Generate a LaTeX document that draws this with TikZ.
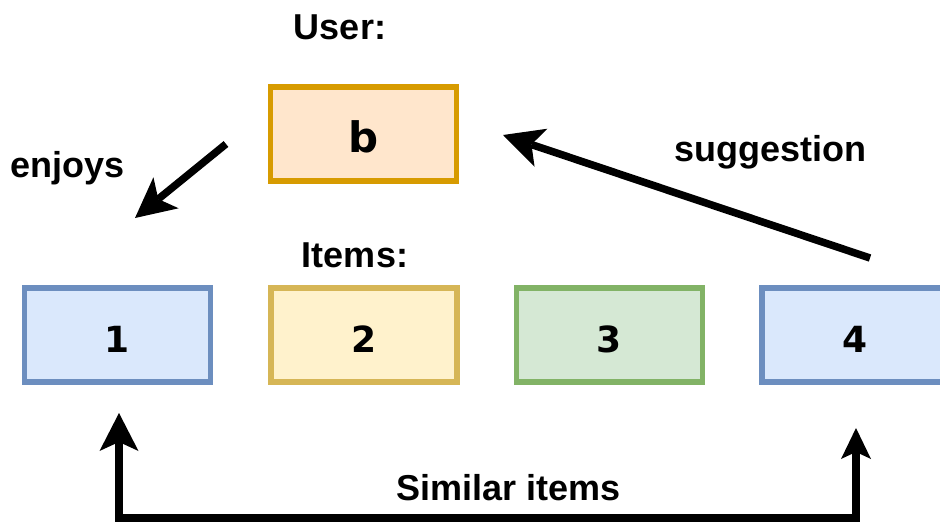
\documentclass[tikz,border=0pt]{standalone}
\usepackage{fontspec}
\setmainfont{Liberation Sans}
\newfontfamily\boxfont{DejaVu Sans}
\usetikzlibrary{arrows.meta}

\definecolor{blueFill}{HTML}{DAE8FC}
\definecolor{blueLine}{HTML}{6C8EBF}
\definecolor{yellowFill}{HTML}{FFF2CC}
\definecolor{yellowLine}{HTML}{D6B656}
\definecolor{greenFill}{HTML}{D5E8D4}
\definecolor{greenLine}{HTML}{82B366}
\definecolor{orangeFill}{HTML}{FFE6CC}
\definecolor{orangeLine}{HTML}{D79B00}

\tikzset{
  itembox/.style={draw, line width=5.5pt, minimum width=186pt, minimum height=94pt,
    inner sep=0pt, font=\boxfont\bfseries\fontsize{36}{40}\selectfont,
    text height=34pt, text depth=0pt},
  userbox/.style={itembox, font=\boxfont\bfseries\fontsize{42}{46}\selectfont,
    text height=36pt},
  caption/.style={anchor=base, inner sep=0pt, font=\bfseries\fontsize{36}{40}\selectfont},
  bigtip/.style={-{Stealth[length=40pt,width=40pt,inset=10pt,line width=0pt]}},
  link/.style={line width=7.5pt, line join=miter},
}

\begin{document}
\begin{tikzpicture}[x=1pt, y=-1pt]
  \clip (0,0) rectangle (940,525);
  \fill[white] (0,0) rectangle (940,525);

  % user
  \node[caption] (userlbl) at (340,39) {User:};
  \node[userbox, fill=orangeFill, draw=orangeLine] (b) at (363.5,134) {b};

  % items
  \node[caption] (itemslbl) at (355,267) {Items:};
  \node[itembox, fill=blueFill,   draw=blueLine]   (i1) at (117.5,335) {1};
  \node[itembox, fill=yellowFill, draw=yellowLine] (i2) at (364,335)   {2};
  \node[itembox, fill=greenFill,  draw=greenLine]  (i3) at (609.5,335) {3};
  \node[itembox, fill=blueFill,   draw=blueLine]   (i4) at (855,335)   {4};

  % edge labels
  \node[caption] (enjoyslbl) at (67.5,177) {enjoys};
  \node[caption] (sugglbl) at (770,161) {suggestion};
  \node[caption] (simlbl) at (508.5,500) {Similar items};

  % connector end points
  \coordinate (enjoyA) at (226,144);
  \coordinate (enjoyB) at (135,218);
  \coordinate (suggA) at (870,258);
  \coordinate (suggB) at (503,135);
  \coordinate (simL) at (119,413);
  \coordinate (simR) at (856,428);
  \coordinate (simBot) at (490,518);

  % connectors
  \draw[link, bigtip] (enjoyA) -- (enjoyB);
  \draw[link, bigtip] (suggA) -- (suggB);
  \draw[link, {Stealth[length=38pt,width=39pt,inset=9pt,line width=0pt]}-{Stealth[length=31pt,width=30pt,inset=7pt,line width=0pt]}]
    (simL) |- (simBot) -| (simR);
\end{tikzpicture}
\end{document}
